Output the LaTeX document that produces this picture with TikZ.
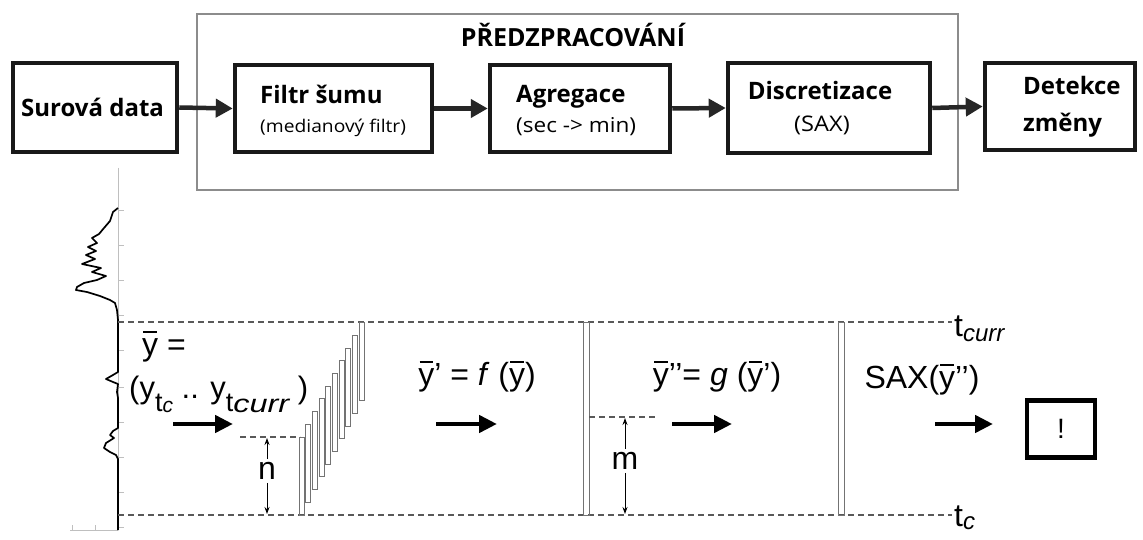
\documentclass[tikz,border=0pt]{standalone}
\usepackage{fontspec}
\setmainfont{Open Sans}
\newfontfamily\subf{Open Sans}[FakeStretch=1.1]
\newfontfamily\lsans{Liberation Sans}
\usetikzlibrary{arrows.meta}
\newcommand\yb{\ooalign{y\cr\hidewidth\rule[0.7em]{0.42em}{0.065em}\hidewidth\cr}}
\newcommand\subtc{\raisebox{-0.42em}{\fontsize{27}{27}\selectfont t\raisebox{-0.05em}{\fontsize{21}{21}\selectfont\itshape c}}}
\newcommand\subtcurr{\raisebox{-0.42em}{\fontsize{27}{27}\selectfont t\raisebox{-0.05em}{\scalebox{1.3}[1]{\fontsize{25}{25}\selectfont\itshape curr}}}}
\begin{document}
\begin{tikzpicture}[x=1pt,y=-1pt,
  box/.style={draw=black!90,line width=4.5pt,fill=white,inner sep=0pt},
  ttl/.style={font=\fontsize{24}{26}\selectfont\bfseries,inner sep=0pt,anchor=base west},
  sub/.style={inner sep=0pt,anchor=base west},
  tarrow/.style={draw=black!85,line width=4.5pt,-{Triangle[length=17pt,width=18pt]}},
  barrow/.style={line width=4.5pt,-{Triangle[length=18pt,width=17pt]}},
  guide/.style={draw=black!65,line width=1.1pt,dash pattern=on 6pt off 4pt},
  win/.style={draw=black!55,line width=0.9pt},
  tip/.style={line width=0.9pt,-{Stealth[length=7pt,width=5pt]}},
  lt/.style={font=\lsans\fontsize{32}{36}\selectfont,inner sep=0pt},
  axis/.style={draw=black!25,line width=1pt},
  curve/.style={draw=black,line width=1.7pt,line join=round}
]
\useasboundingbox[fill=white] (0,0) rectangle (1143,540);

% ---------- top pipeline ----------
\node[draw=black!45,line width=1.3pt,minimum width=761pt,minimum height=176pt,inner sep=0pt] (pre) at (577.5,102) {};
\node[font=\fontsize{25}{27}\selectfont\bfseries,inner sep=0pt,anchor=base] (pretitle) at (573,47) {PŘEDZPRACOVÁNÍ};

\node[box,minimum width=164pt,minimum height=89pt] (surova) at (95,107.5) {};
\node[box,minimum width=197pt,minimum height=87pt] (filtr) at (333.5,108.5) {};
\node[box,minimum width=180pt,minimum height=87pt] (agreg) at (580,108.5) {};
\node[box,minimum width=202pt,minimum height=90pt] (discr) at (829,108) {};
\node[box,minimum width=150pt,minimum height=87pt] (detek) at (1060,106.5) {};

\node[ttl] (t1) at (21,117) {Surová data};
\node[ttl] (t2a) at (260,104) {Filtr šumu};
\node[sub,font=\subf\fontsize{17.5}{19}\selectfont] (t2b) at (260,133) {(medianový filtr)};
\node[ttl] (t3a) at (516,103) {Agregace};
\node[sub,font=\subf\fontsize{20.5}{22}\selectfont] (t3b) at (516,133) {(sec -> min)};
\node[ttl,anchor=base] (t4a) at (820,100) {Discretizace};
\node[sub,anchor=base,font=\subf\fontsize{21.5}{23}\selectfont] (t4b) at (822,132) {(SAX)};
\node[ttl] (t5a) at (1023,95) {Detekce};
\node[ttl] (t5b) at (1023,132) {změny};

\draw[tarrow] (surova.east) -- (filtr.west);
\draw[tarrow] (filtr.east) -- (agreg.west);
\draw[tarrow] (agreg.east) -- (discr.west);
\draw[tarrow] (discr.east) -- (detek.west);

% ---------- time series on the left ----------
\draw[axis] (118,168) -- (118,530);
\draw[axis] (70,530) -- (118,530);
\foreach \yy in {210,245,280,315,350,387,422,457,492,527}
  \draw[axis,line width=0.8pt] (118,\yy) -- (124,\yy);
\foreach \xx in {72,95} \draw[axis,line width=0.8pt] (\xx,530) -- (\xx,525);
\draw[curve] (118,208) -- (113,212) -- (110,221) -- (104,228) -- (99,234) -- (92,238)
  -- (97,243) -- (88,247) -- (96,251) -- (86,255) -- (95,259) -- (82,264) -- (101,268)
  -- (92,272) -- (106,276) -- (97,280) -- (84,283) -- (77,287) -- (76,290) -- (87,292)
  -- (100,296) -- (110,300) -- (115,303) -- (117,310) -- (118,320) -- (118,372)
  -- (113,375) -- (106,379) -- (113,382) -- (118,384) -- (117,392) -- (118,398)
  -- (118,428) -- (113,431) -- (110,435) -- (114,438) -- (106,443) -- (104,448)
  -- (110,452) -- (116,455) -- (118,459) -- (118,530);

% ---------- guides ----------
\coordinate (gTL) at (118,322);
\coordinate (gTR) at (952,322);
\coordinate (gBL) at (118,515);
\coordinate (gBR) at (952,515);
\draw[guide] (gTL) -- (gTR);
\draw[guide] (gBL) -- (gBR);
\node[lt,anchor=base west,font=\lsans\fontsize{32}{34}\selectfont] (tcurr) at (954,336) {t\raisebox{-0.18em}{\fontsize{24}{24}\selectfont\itshape curr}};
\node[lt,anchor=base west,font=\lsans\fontsize{32}{34}\selectfont] (tc) at (954,526) {t\raisebox{-0.1em}{\fontsize{24}{24}\selectfont\itshape c}};

% ---------- stage 1: raw window ----------
\node[lt,anchor=base west] (eq1a) at (142,355) {\yb\ =};
\node[lt,anchor=base west,font=\lsans\fontsize{31}{34}\selectfont] (eq1b) at (129,398) {(y\subtc\ .. y\subtcurr\ )};
\coordinate (a1s) at (173,424); \coordinate (a1e) at (233,424);
\draw[barrow] (a1s) -- (a1e);
\foreach \i in {0,...,9}
  \draw[win] ({299+6.7*\i},{437-12.7*\i}) rectangle ++(5,78);
\coordinate (nL) at (240,437); \coordinate (nR) at (300,437);
\draw[guide] (nL) -- (nR);
\coordinate (nT) at (267,438); \coordinate (nB) at (267,514);
\node[lt,inner sep=3pt] (nlab) at (267,471) {n};
\draw[tip] (nlab.north) -- (nT);
\draw[tip] (nlab.south) -- (nB);

% ---------- stage 2 ----------
\node[lt] (eq2) at (477,377) {\yb’ = \textit{f} (\yb)};
\coordinate (a2s) at (436,424); \coordinate (a2e) at (497,424);
\draw[barrow] (a2s) -- (a2e);
\draw[win] (583,322) rectangle (589,515);
\coordinate (mL) at (589,417); \coordinate (mR) at (655,417);
\draw[guide] (mL) -- (mR);
\coordinate (mT) at (625,418); \coordinate (mB) at (625,514);
\node[lt,inner sep=3pt] (mlab) at (625,461) {m};
\draw[tip] (mlab.north) -- (mT);
\draw[tip] (mlab.south) -- (mB);

% ---------- stage 3 ----------
\node[lt] (eq3) at (717,377) {\yb’’= \textit{g} (\yb’)};
\coordinate (a3s) at (672,424); \coordinate (a3e) at (732,424);
\draw[barrow] (a3s) -- (a3e);
\draw[win] (838,322) rectangle (844,515);

% ---------- stage 4 ----------
\node[lt] (eq4) at (922,380) {SAX(\yb’’)};
\coordinate (a4s) at (935,424); \coordinate (a4e) at (993,424);
\draw[barrow] (a4s) -- (a4e);
\node[draw=black,line width=4.5pt,minimum width=68pt,minimum height=57pt,inner sep=0pt,font=\lsans\fontsize{28}{30}\selectfont] (bang) at (1061,429) {!};
\end{tikzpicture}
\end{document}
